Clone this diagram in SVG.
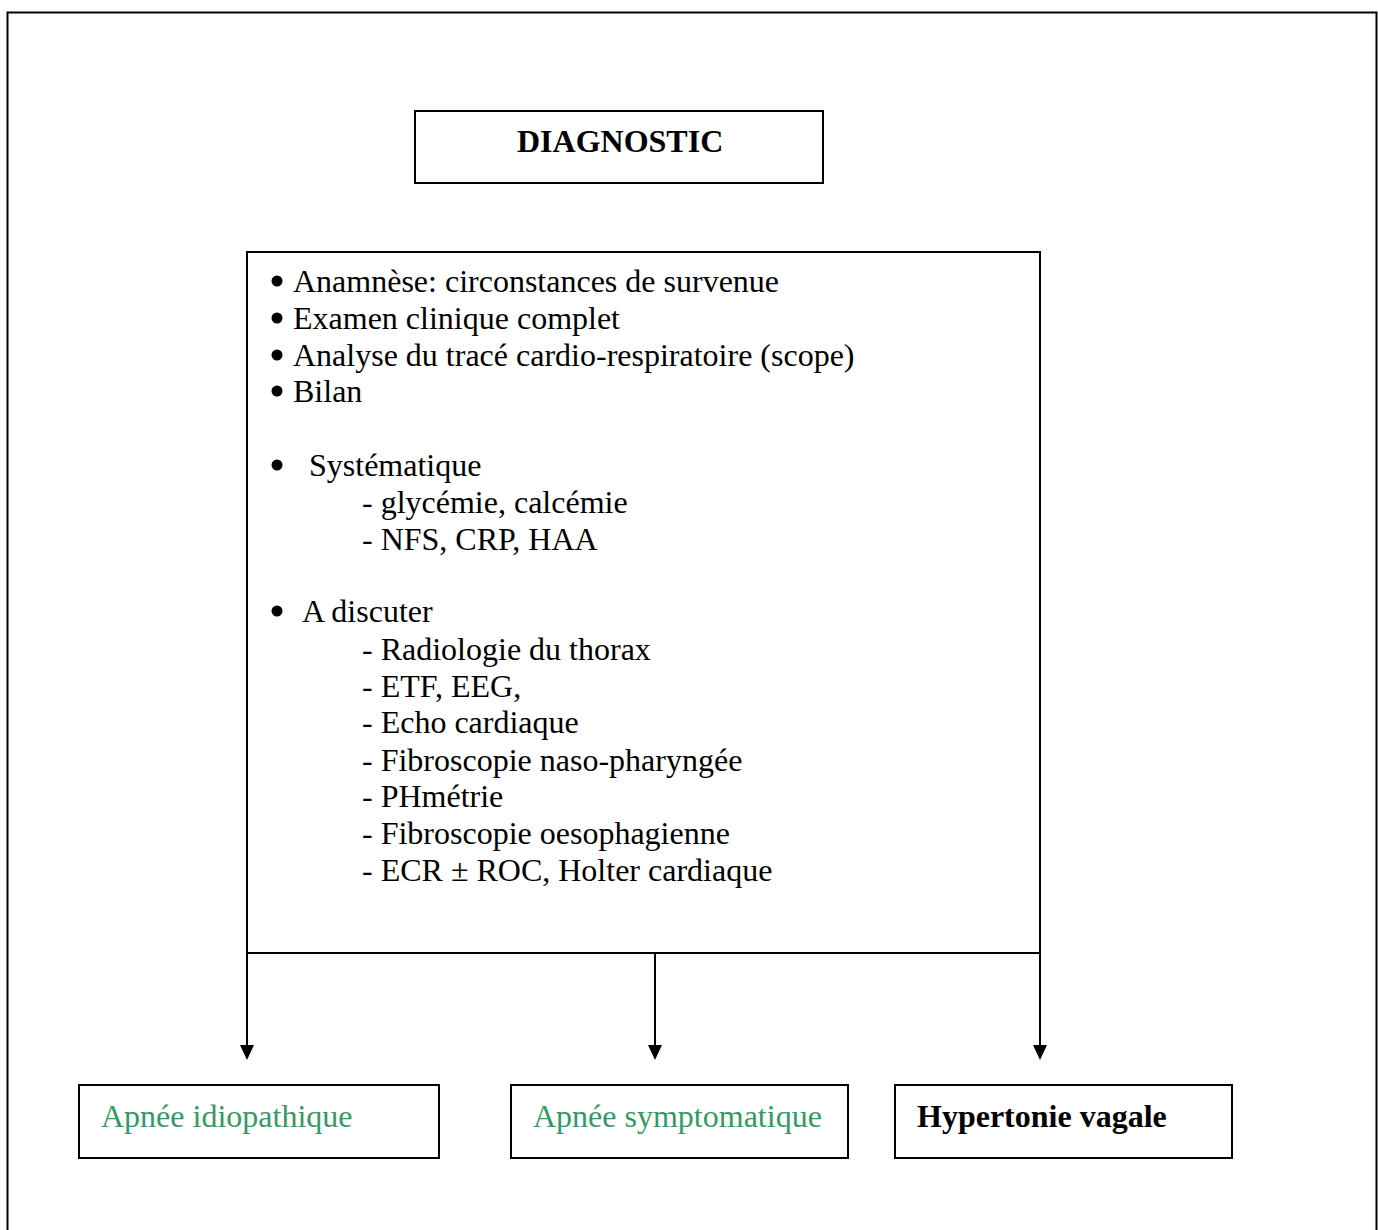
<svg xmlns="http://www.w3.org/2000/svg" width="1378" height="1230" viewBox="0 0 1378 1230">
  <style>
    .box { fill: #ffffff; stroke: #000000; stroke-width: 2; }
    .frame { fill: none; stroke: #000000; stroke-width: 2; }
    .txt { font-family: "Liberation Serif", "Times New Roman", serif; font-size: 32px; fill: #000000; }
    .bold { font-weight: bold; }
    .green { fill: #339966; }
    .wire { fill: none; stroke: #000000; stroke-width: 2; }
    .dot { fill: #000000; }
  </style>
  <defs>
    <!-- solid triangular head, tip sits 10px past the end of the line -->
    <marker id="arrow" markerWidth="15" markerHeight="14" refX="5" refY="7" orient="auto" markerUnits="userSpaceOnUse" viewBox="0 0 15 14">
      <path d="M0,0 L15,7 L0,14 Z" fill="#000000"/>
    </marker>
  </defs>

  <rect width="1378" height="1230" fill="#ffffff"/>

  <!-- page frame (open at the bottom) -->
  <path class="frame" d="M7.5,1230 V12.5 H1376.5 V1230"/>

  <!-- title -->
  <g id="diagnostic">
    <rect class="box" x="415" y="111" width="408" height="72"/>
    <text class="txt bold" x="517" y="152">DIAGNOSTIC</text>
  </g>

  <!-- work-up list -->
  <g id="bilan">
    <rect class="box" x="247" y="252" width="793" height="701"/>
    <circle class="dot" cx="277" cy="281" r="5.5"/>
    <circle class="dot" cx="277" cy="318" r="5.5"/>
    <circle class="dot" cx="277" cy="355" r="5.5"/>
    <circle class="dot" cx="277" cy="391" r="5.5"/>
    <circle class="dot" cx="277" cy="465" r="5.5"/>
    <circle class="dot" cx="277" cy="611" r="5.5"/>
    <text class="txt" x="293" y="292">Anamnèse: circonstances de survenue</text>
    <text class="txt" x="293" y="329">Examen clinique complet</text>
    <text class="txt" x="293" y="366">Analyse du tracé cardio-respiratoire (scope)</text>
    <text class="txt" x="293" y="402">Bilan</text>
    <text class="txt" x="309" y="476">Systématique</text>
    <text class="txt" x="362" y="513">- glycémie, calcémie</text>
    <text class="txt" x="362" y="550">- NFS, CRP, HAA</text>
    <text class="txt" x="302" y="622">A discuter</text>
    <text class="txt" x="362" y="660">- Radiologie du thorax</text>
    <text class="txt" x="362" y="697">- ETF, EEG,</text>
    <text class="txt" x="362" y="733">- Echo cardiaque</text>
    <text class="txt" x="362" y="771">- Fibroscopie naso-pharyngée</text>
    <text class="txt" x="362" y="807">- PHmétrie</text>
    <text class="txt" x="362" y="844">- Fibroscopie oesophagienne</text>
    <text class="txt" x="362" y="881">- ECR ± ROC, Holter cardiaque</text>
  </g>

  <!-- branches to the three outcomes -->
  <g id="connectors">
    <path class="wire" d="M247,953 V1050" marker-end="url(#arrow)"/>
    <path class="wire" d="M655,953 V1050" marker-end="url(#arrow)"/>
    <path class="wire" d="M1040,953 V1050" marker-end="url(#arrow)"/>
  </g>

  <g id="apnee-idiopathique">
    <rect class="box" x="79" y="1085" width="360" height="73"/>
    <text class="txt green" x="101" y="1127">Apnée idiopathique</text>
  </g>

  <g id="apnee-symptomatique">
    <rect class="box" x="511" y="1085" width="337" height="73"/>
    <text class="txt green" x="533" y="1127">Apnée symptomatique</text>
  </g>

  <g id="hypertonie-vagale">
    <rect class="box" x="895" y="1085" width="337" height="73"/>
    <text class="txt bold" x="917" y="1127">Hypertonie vagale</text>
  </g>
</svg>
